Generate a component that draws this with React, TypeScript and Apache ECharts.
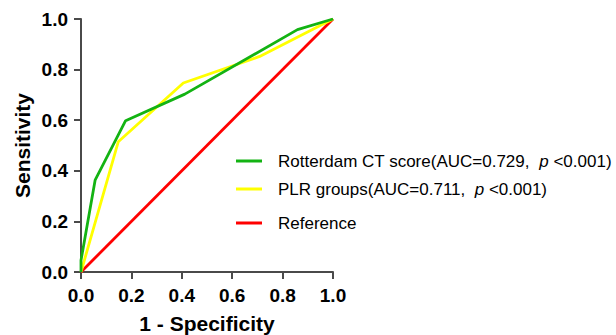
import React, { useEffect, useRef } from "react";
import * as echarts from "echarts";

const rotterdamName = "Rotterdam CT score(AUC=0.729, p<0.001)";
const plrName = "PLR groups(AUC=0.711, p<0.001)";
const referenceName = "Reference";

const rotterdamX = [0, 0, 0.056, 0.177, 0.412, 0.859, 1];
const rotterdamY = [0, 0.046, 0.363, 0.598, 0.703, 0.958, 1];
const plrX = [0, 0.148, 0.406, 0.709, 1];
const plrY = [0, 0.515, 0.747, 0.852, 1];
const referenceX = [0, 1];
const referenceY = [0, 1];

const FONT = '"Liberation Sans", Arial, Helvetica, sans-serif';

function pairs(xs: number[], ys: number[]) {
  return xs.map((x, i) => [x, ys[i]]);
}

export default function App() {
  const ref = useRef<HTMLDivElement>(null);
  useEffect(() => {
    if (!ref.current) return;
    const chart = echarts.init(ref.current, null, { renderer: "svg" });
    const legendText = {
      fontFamily: FONT,
      fontSize: 17,
      color: "#000",
      rich: {
        s: { width: 11 },
        t: { fontFamily: FONT, fontSize: 17, color: "#000" },
        i: { fontFamily: FONT, fontSize: 17, color: "#000", fontStyle: "italic" as const },
      },
    };
    const fmt = (name: string) => {
      const idx = name.indexOf(" p<");
      if (idx < 0) return "{s|}{t|" + name + "}";
      return "{s|}{t|" + name.slice(0, idx) + "  }{i|p}{t| " + name.slice(idx + 2) + "}";
    };
    const mkLegend = (name: string, top: number) => ({
      data: [name],
      left: 236,
      top,
      orient: "horizontal" as const,
      icon: "rect",
      itemWidth: 26,
      itemHeight: 3,
      itemGap: 0,
      padding: 0,
      textStyle: legendText,
      formatter: fmt,
      selectedMode: false,
    });
    const axisCommon = {
      type: "value" as const,
      min: 0,
      max: 1,
      interval: 0.2,
      splitLine: { show: false },
      axisLine: { show: true, onZero: false, lineStyle: { color: "#4a4a4a", width: 2 } },
      axisTick: { show: true, length: 7, lineStyle: { color: "#4a4a4a", width: 2 } },
      axisLabel: {
        fontFamily: FONT,
        fontSize: 19,
        fontWeight: "bold" as const,
        color: "#000",
        formatter: (v: number) => v.toFixed(1),
      },
      nameLocation: "middle" as const,
      nameTextStyle: {
        fontFamily: FONT,
        fontSize: 21,
        fontWeight: "bold" as const,
        color: "#000",
      },
    };
    chart.setOption({
      animation: false,
      backgroundColor: "#fff",
      grid: {
        left: 81,
        top: 19,
        width: 252,
        height: 253,
        containLabel: false,
        outerBoundsMode: "none",
      },
      legend: [
        mkLegend(rotterdamName, 152.5),
        mkLegend(plrName, 180.5),
        mkLegend(referenceName, 214.5),
      ],
      xAxis: {
        ...axisCommon,
        name: "1 - Specificity",
        nameGap: 41,
        axisLabel: { ...axisCommon.axisLabel, margin: 14 },
      },
      yAxis: {
        ...axisCommon,
        name: "Sensitivity",
        nameGap: 48,
        axisLabel: { ...axisCommon.axisLabel, margin: 13 },
      },
      series: [
        {
          name: referenceName,
          type: "line",
          data: pairs(referenceX, referenceY),
          showSymbol: false,
          lineStyle: { color: "#ff0000", width: 2.8 },
          itemStyle: { color: "#ff0000" },
        },
        {
          name: plrName,
          type: "line",
          data: pairs(plrX, plrY),
          showSymbol: false,
          lineStyle: { color: "#ffff00", width: 2.8 },
          itemStyle: { color: "#ffff00" },
        },
        {
          name: rotterdamName,
          type: "line",
          data: pairs(rotterdamX, rotterdamY),
          showSymbol: false,
          lineStyle: { color: "#13b313", width: 2.8 },
          itemStyle: { color: "#13b313" },
        },
      ],
    });
    return () => chart.dispose();
  }, []);
  return (
    <div
      ref={ref}
      style={{ position: "absolute", left: 0, top: 0, width: 616, height: 335 }}
    />
  );
}
